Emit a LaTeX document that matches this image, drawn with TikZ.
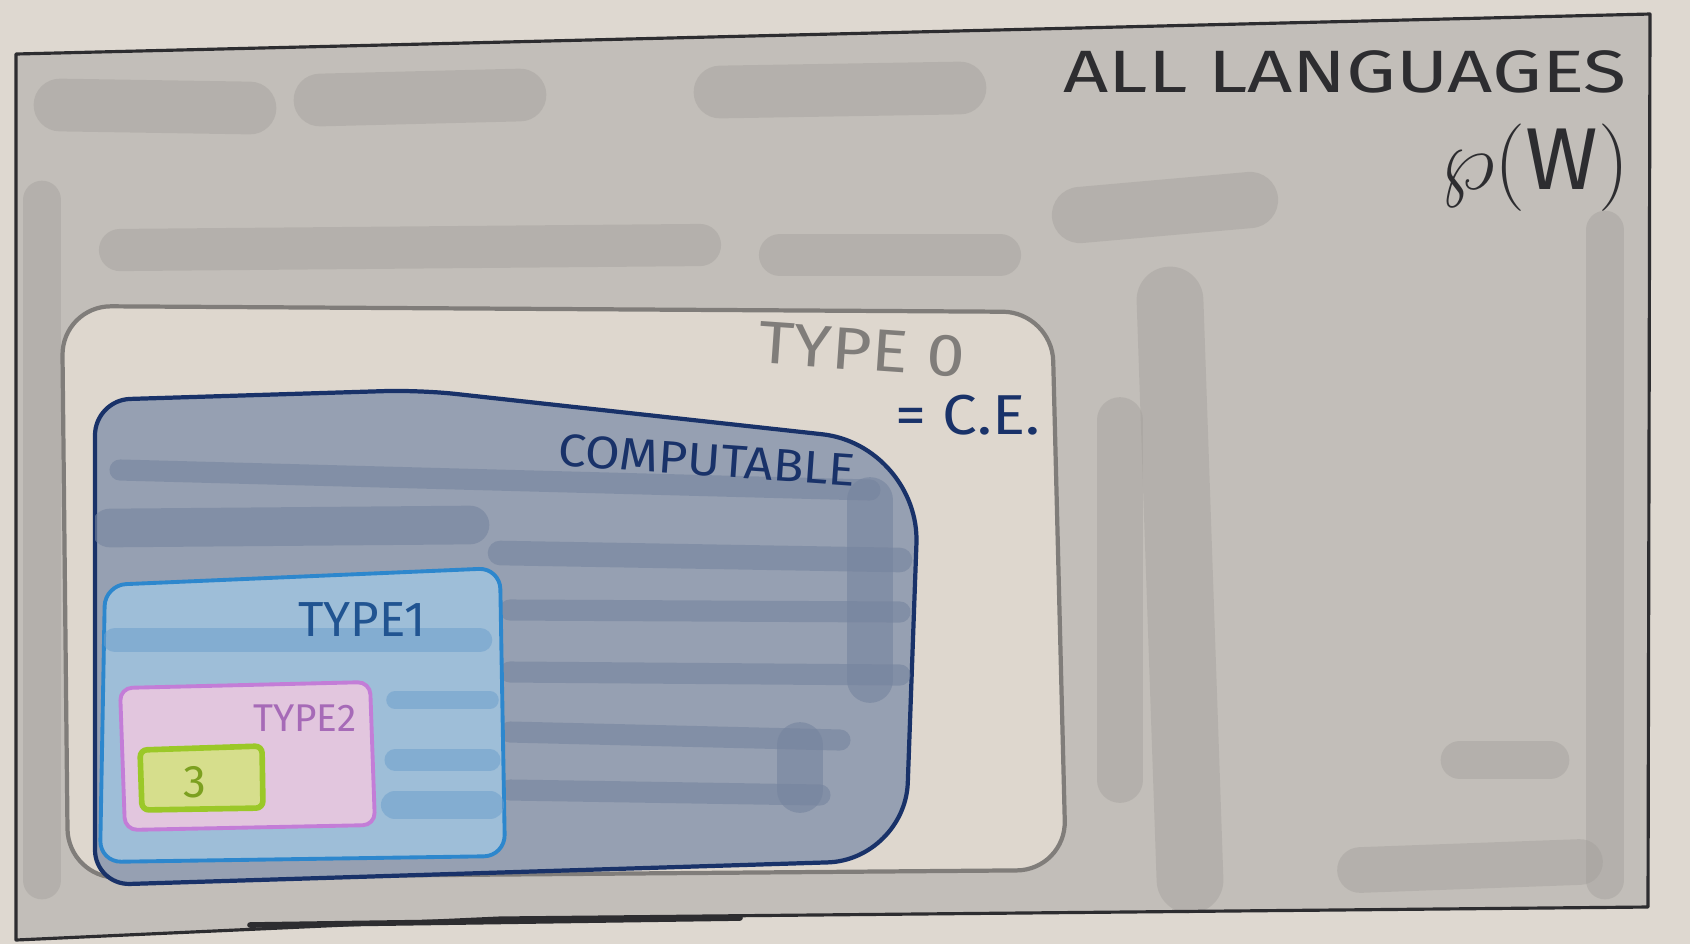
\documentclass[tikz,border=0pt]{standalone}
\usepackage{fontspec}
\setmainfont{Fira Sans}
\definecolor{paper}{RGB}{222,216,208}
\definecolor{wash}{RGB}{194,190,185}
\definecolor{washdark}{RGB}{160,157,153}
\definecolor{inkdark}{RGB}{45,45,48}
\definecolor{zerofill}{RGB}{222,215,206}
\definecolor{zeroline}{RGB}{128,125,122}
\definecolor{compfill}{RGB}{150,160,178}
\definecolor{compstripe}{RGB}{118,132,158}
\definecolor{compline}{RGB}{25,50,105}
\definecolor{onefill}{RGB}{158,190,216}
\definecolor{onestripe}{RGB}{110,160,205}
\definecolor{oneline}{RGB}{45,135,205}
\definecolor{twofill}{RGB}{226,198,222}
\definecolor{twoline}{RGB}{195,125,215}
\definecolor{threefill}{RGB}{214,222,140}
\definecolor{threeline}{RGB}{155,200,40}
\tikzset{
  washstroke/.style={line cap=round, opacity=0.4, color=washdark},
  cstroke/.style={line cap=round, opacity=0.6, color=compstripe},
  ostroke/.style={line cap=round, opacity=0.55, color=onestripe},
  hand/.style={inner sep=0pt}
}
\begin{document}
\begin{tikzpicture}[x=0.01cm,y=-0.01cm]
% paper
\fill[paper] (0,0) rectangle (1690,944);
\useasboundingbox (0,0) rectangle (1690,944);
% outer region wash
\def\outerpath{(16,54) -- (1650,14) -- (1648,907) -- (500,918) -- (16,940) -- cycle}
\fill[wash] \outerpath;
% wash bands
\draw[washstroke, line width=15pt] (60,105) -- (250,108);
\draw[washstroke, line width=15pt] (320,100) -- (520,95);
\draw[washstroke, line width=15pt] (720,92) -- (960,88);
\draw[washstroke, line width=12pt] (120,250) -- (700,245);
\draw[washstroke, line width=12pt] (780,255) -- (1000,255);
\draw[washstroke, line width=16pt] (1080,215) -- (1250,200);
\draw[washstroke, line width=19pt] (1170,300) -- (1190,880);
\draw[washstroke, line width=13pt] (1120,420) -- (1120,780);
\draw[washstroke, line width=11pt] (1605,230) -- (1605,880);
\draw[washstroke, line width=11pt] (42,200) -- (42,880);
\draw[washstroke, line width=13pt] (1360,870) -- (1580,862);
\draw[washstroke, line width=11pt] (1460,760) -- (1550,760);
% outer border
\draw[inkdark, line width=0.9pt, line join=round] \outerpath;
\draw[inkdark, line width=1.6pt, line cap=round] (250,925) -- (740,918);
% Type 0
\draw[zeroline, fill=zerofill, line width=1.2pt, rounded corners=14pt]
  (62,306) -- (1052,312) -- (1066,870) -- (68,878) -- cycle;
% Computable
\def\comppath{[rounded corners=10pt] (95,400) -- (420,390) [rounded corners=28pt] -- (920,445) [rounded corners=22pt] -- (905,860) [rounded corners=10pt] -- (95,885) -- cycle}
\draw[compline, fill=compfill, line width=1.2pt] \comppath;
\begin{scope}
\clip \comppath;
\draw[cstroke, line width=6pt] (120,470) -- (870,490);
\draw[cstroke, line width=11pt] (110,528) -- (470,525);
\draw[cstroke, line width=7pt] (500,553) -- (900,560);
\draw[cstroke, line width=6pt] (510,610) -- (900,612);
\draw[cstroke, line width=6pt] (510,672) -- (900,675);
\draw[cstroke, line width=6pt] (510,732) -- (840,740);
\draw[cstroke, line width=6pt] (510,790) -- (820,795);
\draw[cstroke, line width=13pt] (870,500) -- (870,680);
\draw[cstroke, line width=13pt] (800,745) -- (800,790);
\end{scope}
% Type 1
\def\onepath{[rounded corners=6pt] (105,585) -- (500,568) -- (505,856) -- (100,862) -- cycle}
\draw[oneline, fill=onefill, line width=1.1pt] \onepath;
\begin{scope}
\clip \onepath;
\draw[ostroke, line width=7pt] (115,640) -- (480,640);
\draw[ostroke, line width=5pt] (395,700) -- (490,700);
\draw[ostroke, line width=6pt] (395,760) -- (490,760);
\draw[ostroke, line width=8pt] (395,805) -- (490,805);
\end{scope}
% Type 2
\draw[twoline, fill=twofill, line width=1.1pt, rounded corners=3.5pt]
  (120,688) -- (370,682) -- (375,825) -- (125,830) -- cycle;
% Type 3
\draw[threeline, fill=threefill, line width=1.6pt, rounded corners=2pt]
  (140,750) -- (262,746) -- (263,808) -- (142,810) -- cycle;
% labels
\node[hand, text=inkdark, xscale=1.32, font=\fontsize{17}{17}\selectfont] (alllang) at (1345,72) {ALL LANGUAGES};
\node[hand, text=inkdark, font=\fontsize{25}{25}\selectfont] (pw) at (1535,168) {$\wp(\mathrm{W})$};
\node[hand, text=zeroline, rotate=-4, xscale=1.15, font=\fontsize{17}{17}\selectfont] (t0) at (862,350) {TYPE 0};
\node[hand, text=compline, xscale=1.1, font=\fontsize{16}{16}\selectfont] (ce) at (968,415) {= C.E.};
\node[hand, text=compline, rotate=-4, xscale=1.1, font=\fontsize{13}{13}\selectfont] (comp) at (707,460) {COMPUTABLE};
\node[hand, text=compline!60!oneline, font=\fontsize{14}{14}\selectfont] (t1) at (362,620) {TYPE1};
\node[hand, text=twoline!85!black, font=\fontsize{11}{11}\selectfont] (t2) at (305,718) {TYPE2};
\node[hand, text=threeline!80!black, font=\fontsize{13}{13}\selectfont] (t3) at (195,782) {3};
\end{tikzpicture}
\end{document}
